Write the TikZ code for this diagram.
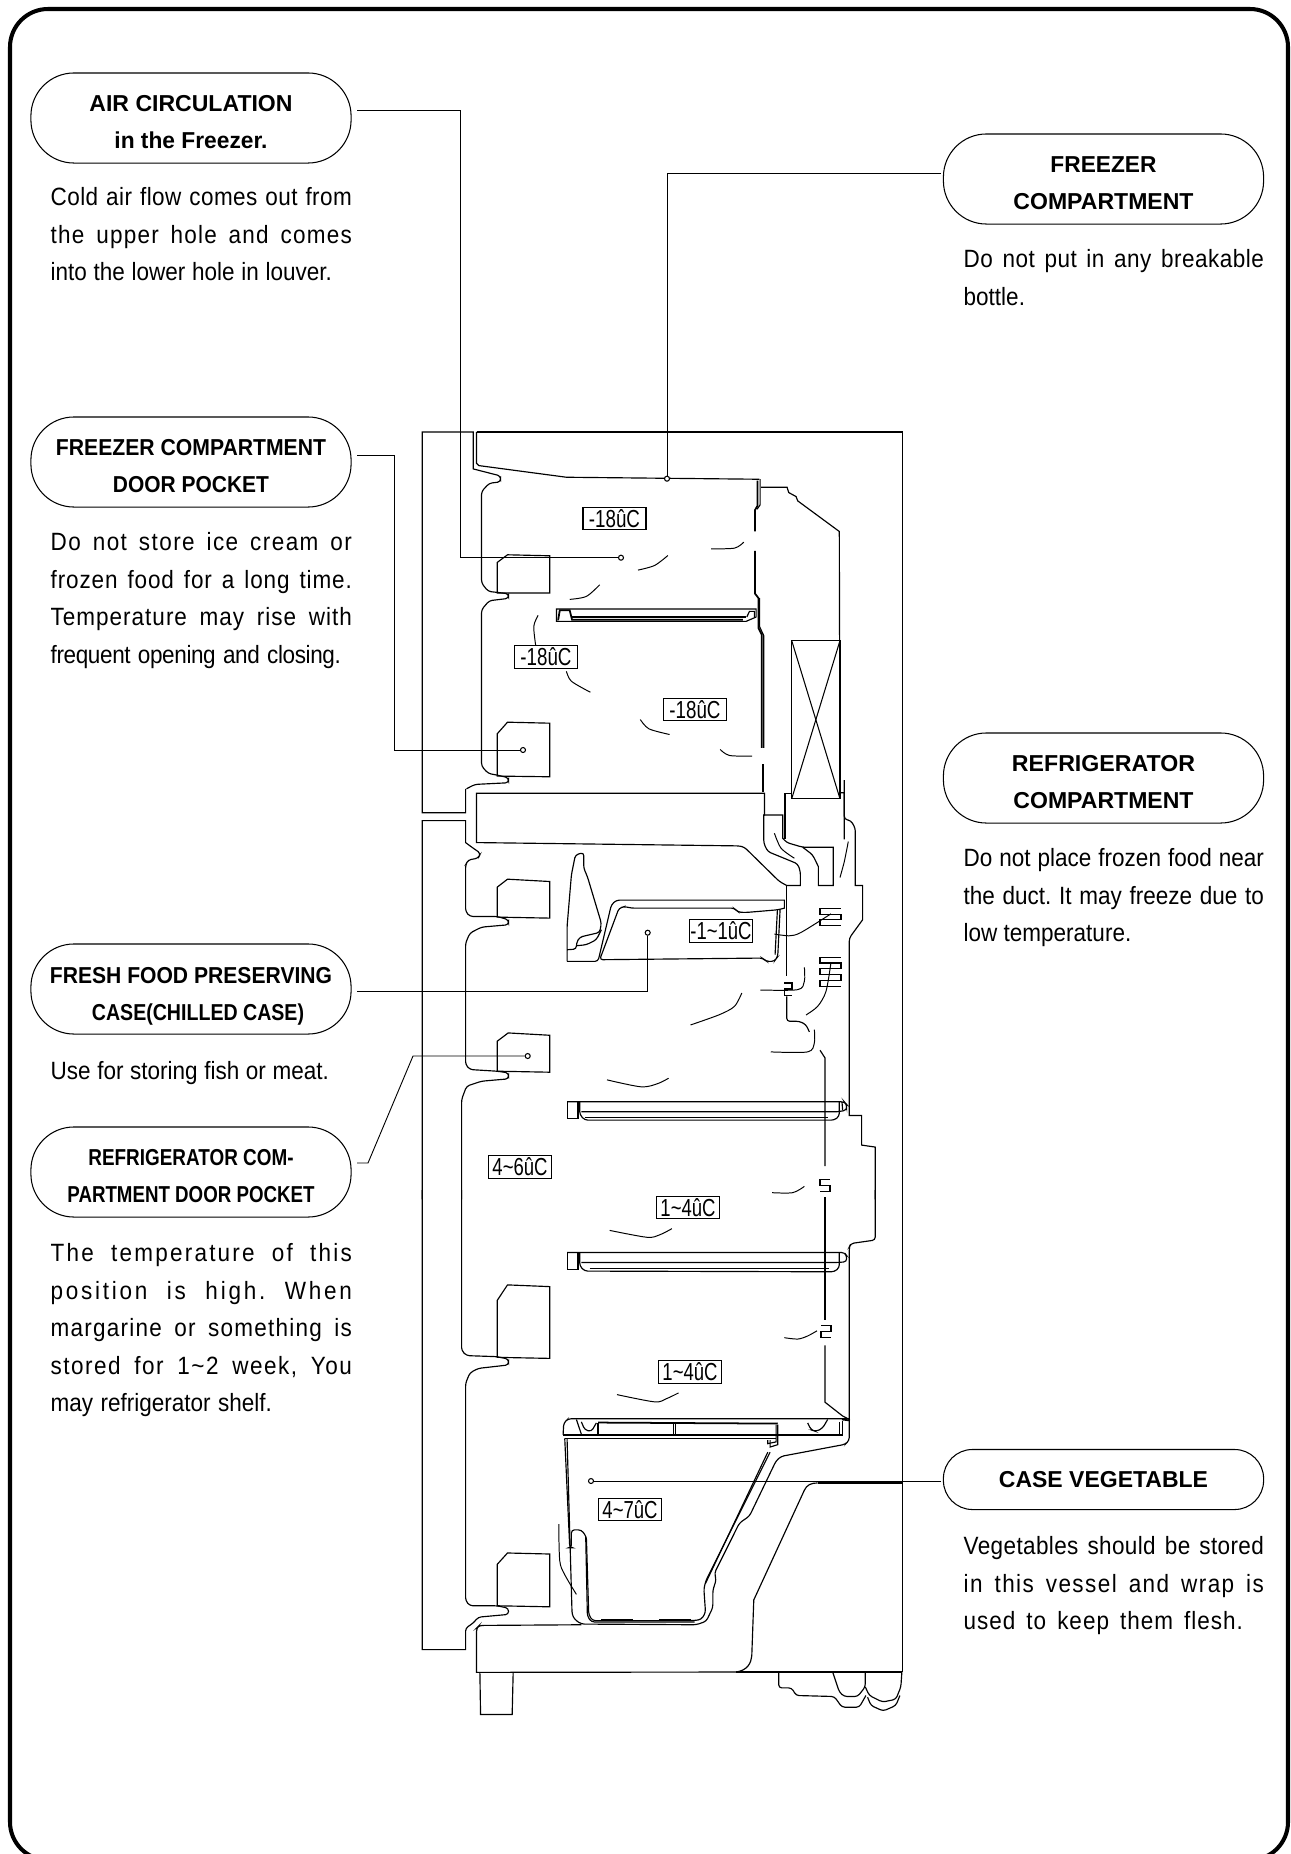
\documentclass[tikz,border=0pt]{standalone}
\usepackage{graphicx}
\usepackage{fontspec}
\setmainfont{Liberation Sans}[FakeStretch=0.9]
\newcommand{\fitw}[2]{\resizebox{#1cm}{\height}{#2}}
\newcommand{\bline}[3]{\makebox[#1cm][s]{\addfontfeature{LetterSpace=#2}#3}}
\newcommand{\pilltop}{\rule{0pt}{0.25cm}}
\tikzset{
	pill/.style={draw,line width=0.3pt,rounded corners=0.43cm,minimum width=3.2cm,minimum height=0.9cm,inner sep=0pt,align=center,font={\fontsize{6.55}{10.53}\selectfont\bfseries}},
	desc/.style={inner sep=0pt,anchor=north west,align=left,font={\fontsize{7.11}{10.67}\selectfont\frenchspacing}},
	tempbox/.style={draw,line width=0.35pt,fill=white,inner sep=0pt,minimum width=0.63cm,minimum height=0.225cm,font={\fontsize{7}{8}\selectfont}},
	dot/.style={circle,draw,fill=white,line width=0.3pt,inner sep=0pt,minimum size=0.05cm},
	leader/.style={line width=0.26pt},
	wall/.style={line width=0.33pt},
	curvy/.style={line width=0.33pt,rounded corners=0.03cm},
	heavy/.style={line width=0.5pt},
	air/.style={line width=0.28pt},
	partA/.style={shift={(410,420)},x=0.00333cm,y=-0.00333cm},
	partB/.style={shift={(410,780)},x=0.00333cm,y=-0.00333cm},
	partC/.style={shift={(410,1190)},x=0.00333cm,y=-0.00345cm}
}
\begin{document}
\begin{tikzpicture}[x=0.01cm,y=-0.01cm]
	\useasboundingbox (0,0) rectangle (1291,1854);
	\clip (0,0) rectangle (1291,1854);
	% Outer frame
	\draw[line width=1.15pt,rounded corners=0.38cm] (10,9) rectangle (1288,1860);

	% Cabinet: top and right side
	\draw[heavy] (476.5,432) -- (902.5,432);
	\draw[wall] (902.5,432) -- (902.5,1672);

	% Freezer part
	\begin{scope}[partA]
		\draw[wall] (167,1108) [sharp corners] -- (167,1180) -- (37,1180) -- (37,36) -- (190,36) -- (190,147) [rounded corners=0.03cm] -- (272,168) -- (272,186) -- (238,190) -- (215,215) -- (215,490) -- (235,515) -- (262,518) -- (296,522) -- (296,536) -- (238,543) -- (215,570) -- (215,1040) -- (235,1062) -- (262,1067) -- (296,1075) -- (296,1090) -- (195,1095) -- (170,1108);
		\draw[wall] (200,36) -- (200,130) -- (207,137) -- (470,172) -- (1050,178);
		\draw[wall] (262,428) -- (293,405) -- (420,408) -- (420,520) -- (262,520) -- cycle;
		\draw[wall] (262,943) -- (293,908) -- (420,911) -- (420,1072) -- (262,1070) -- cycle;
		% Louver
		\draw[heavy] (1044,182) -- (1044,258) -- (1037,270) -- (1037,335);
		\draw[wall] (1052,178) -- (1052,255) -- (1043,268);
		\draw[heavy] (1037,393) -- (1037,522) -- (1047,535) -- (1047,625) -- (1057,645) -- (1057,985);
		\draw[wall] (1050,535) -- (1050,620) -- (1063,648) -- (1063,985);
		\draw[wall] (1058,1035) -- (1058,1118);
		\draw[wall] (1063,1035) -- (1063,1118);
		% Duct and evaporator
		\draw[wall] (1055,202) -- (1133,202) -- (1138,218) -- (1160,230) -- (1165,243) -- (1290,335) -- (1292,1120) -- (1305,1120) -- (1305,1260);
		\draw[line width=0.35pt] (1147,663) rectangle (1292,1138);
		\draw[line width=0.3pt] (1147,663) -- (1292,1138);
		\draw[line width=0.3pt] (1292,663) -- (1147,1138);
		% Shelf
		\draw[wall] (440,568) -- (1040,568) -- (1040,592) -- (1010,605) -- (440,605) -- cycle;
		\draw[heavy] (445,602) -- (450,572) -- (480,572) -- (487,600) -- (1000,600);
		\draw[wall] (487,592) -- (1010,592);
		\draw[wall] (1012,592) -- (1020,575) -- (1035,575) -- (1035,592);
		% Air flow
		\draw[air] plot[smooth] coordinates {(905,387) (975,385) (1003,367)};
		\draw[air] plot[smooth] coordinates {(685,451) (735,437) (775,407)};
		\draw[air] plot[smooth] coordinates {(480,539) (530,530) (570,495)};
		\draw[air] plot[smooth] coordinates {(385,587) (372,620) (378,680)};
		\draw[air] plot[smooth] coordinates {(470,755) (485,785) (542,818)};
		\draw[air] plot[smooth] coordinates {(692,900) (718,928) (780,945)};
		\draw[air] plot[smooth] coordinates {(932,990) (960,1008) (1028,1010)};
	\end{scope}

	% Refrigerator part
	\begin{scope}[partB]
		\draw[wall] (37,1260) -- (37,122) -- (167,122) -- (167,188) [rounded corners=0.03cm] -- (190,205) -- (212,220) -- (205,235) -- (175,240) -- (167,255) -- (167,395) -- (180,410) -- (262,410) -- (296,420) -- (296,435) -- (215,442) -- (180,460) -- (167,490) -- (167,855) -- (180,870) -- (262,875) -- (296,880) -- (296,898) -- (215,905) -- (170,920) -- (155,960) -- (155,1260);
		\draw[wall] (262,322) -- (293,298) -- (420,305) -- (420,415) -- (262,412) -- cycle;
		\draw[wall] (262,785) -- (295,760) -- (420,767) -- (420,878) -- (262,875) -- cycle;
		% Partition and ducts
		\draw[wall] (200,40) -- (1065,40) -- (1065,105) -- (1063,105) [rounded corners=0.03cm] -- (1063,190) -- (1075,215) -- (1165,252) -- (1173,275) [sharp corners] -- (1173,317) -- (1132,317) [rounded corners=0.03cm] -- (1110,305) -- (1005,202) -- (990,198) [sharp corners] -- (200,188) -- cycle;
		\draw[wall] (1063,105) -- (1120,105) -- (1120,175) [rounded corners=0.03cm] -- (1132,188) -- (1180,202) [sharp corners] -- (1272,202) -- (1272,317) -- (1227,317) -- (1227,260) [rounded corners=0.03cm] -- (1210,225) -- (1180,202);
		\draw[wall] (1148,40) -- (1127,40) -- (1127,178);
		\draw[curvy] (1305,0) -- (1305,118) -- (1325,122) -- (1338,145) [sharp corners] -- (1338,317) -- (1360,317) -- (1360,420) [rounded corners=0.03cm] -- (1320,475) [sharp corners] -- (1320,1008) -- (1357,1008) -- (1357,1097) -- (1398,1103) -- (1398,1260);
		\draw[wall] (1132,317) -- (1132,590);
		\draw[curvy] (1132,650) -- (1132,725) -- (1170,725) -- (1190,735) -- (1200,757);
		\draw[wall] (1125,610) -- (1148,610) -- (1148,628) -- (1125,628) -- (1125,647) -- (1148,647);
		\draw[wall] (1295,385) -- (1232,385) -- (1232,403) -- (1295,403) -- (1295,420) -- (1232,420) -- (1232,437) -- (1295,437);
		\draw[wall] (1295,533) -- (1232,533) -- (1232,550) -- (1295,550) -- (1295,567) -- (1232,567) -- (1232,585) -- (1295,585) -- (1295,602) -- (1232,602) -- (1232,620) -- (1295,620);
		\draw[wall] (1262,1200) -- (1232,1200) -- (1232,1218) -- (1262,1218) -- (1262,1237) -- (1232,1237);
		\draw[wall] (1232,812) -- (1247,835) -- (1247,1160);
		\draw[wall] (1247,1253) -- (1247,1260);
		% Chilled case
		\draw[curvy] (472,545) -- (472,440) -- (485,285) -- (497,225) -- (522,218) -- (522,265) -- (533,290) -- (575,430) -- (570,458) -- (510,472) -- (500,490) -- (500,508) -- (472,510);
		\draw[curvy] (500,498) -- (530,495) -- (560,480) -- (575,450);
		\draw[curvy] (472,545) -- (565,545) -- (605,375) -- (620,361) [sharp corners] -- (1125,361) -- (1125,385) [rounded corners=0.03cm] -- (1105,390) -- (1010,398) -- (985,397) -- (975,385) -- (665,385) -- (645,380) -- (628,385) -- (570,540) -- (1060,535) -- (1070,545) -- (1095,545) -- (1105,530) -- (1112,390);
		\draw[wall] (1104,390) -- (1097,525);
		% Shelf
		\draw[curvy] (472,967) -- (1305,967) -- (1312,975) -- (1312,992) -- (1285,997) -- (515,997);
		\draw[wall] (472,967) -- (505,967) -- (505,1018) -- (472,1018) -- cycle;
		\draw[curvy] (510,967) -- (510,1005) -- (525,1022) -- (1275,1022) -- (1290,1010) -- (1290,967);
		\draw[wall] (525,1015) -- (1255,1015);
		\draw[wall] (1298,967) -- (1300,992);
		% Air flow
		\draw[air] plot[smooth] coordinates {(1095,160) (1115,205) (1155,235)};
		\draw[air] plot[smooth] coordinates {(1317,185) (1305,245) (1292,293)};
		\draw[air] plot[smooth] coordinates {(1095,463) (1140,468) (1175,458) (1265,402)};
		\draw[air] plot[smooth] coordinates {(1185,563) (1185,605) (1165,630) (1053,631)};
		\draw[air] plot[smooth] coordinates {(1265,548) (1250,635) (1225,680) (1190,706)};
		\draw[air] plot[smooth] coordinates {(997,640) (975,680) (930,705) (843,736)};
		\draw[air] plot[smooth] coordinates {(1215,750) (1215,790) (1195,817) (1084,817)};
		\draw[air] plot[smooth] coordinates {(592,901) (695,922) (745,912) (777,896)};
		\draw[air] plot[smooth] coordinates {(1088,1240) (1150,1240) (1185,1221)};
	\end{scope}

	% Lower part
	\begin{scope}[partC]
		\draw[curvy] (155,0) -- (155,465) -- (170,480) -- (262,483) -- (296,490) -- (296,507) -- (205,517) -- (180,530) -- (167,560) -- (167,1190) -- (180,1205) -- (262,1205) -- (296,1212) -- (296,1230) -- (205,1238) -- (190,1255) -- (167,1270) [sharp corners] -- (167,1332) -- (37,1332) -- (37,0);
		\draw[wall] (262,320) -- (293,275) -- (420,280) -- (420,488) -- (262,485) -- cycle;
		\draw[wall] (262,1085) -- (293,1052) -- (420,1055) -- (420,1208) -- (262,1205) -- cycle;
		\draw[curvy] (1398,0) -- (1398,145) -- (1325,155) -- (1320,165) -- (1320,725) -- (1308,737) -- (1115,772) -- (1100,785) -- (1020,945) -- (990,965) -- (915,1110) -- (920,1130) -- (910,1160) -- (910,1210) -- (890,1250) -- (860,1260) -- (515,1258) -- (495,1245) -- (487,1230) -- (472,722);
		\draw[wall] (1247,25) -- (1247,378);
		\draw[wall] (1235,393) -- (1265,393) -- (1265,410) -- (1235,410) -- (1235,428) -- (1265,428);
		\draw[wall] (1247,450) -- (1247,615) -- (1300,655) -- (1320,665);
		% Shelf
		\draw[curvy] (472,181) -- (1305,181) -- (1312,190) -- (1312,208) -- (1285,210) -- (515,210);
		\draw[wall] (472,181) -- (505,181) -- (505,230) -- (472,230) -- cycle;
		\draw[curvy] (510,181) -- (510,220) -- (525,235) -- (1275,237) -- (1290,225) -- (1290,181);
		\draw[wall] (540,228) -- (1260,228);
		% Cover of the vegetable case
		\draw[curvy] (460,710) -- (462,675) -- (475,663) -- (1322,663);
		\draw[wall] (460,710) -- (1300,710) -- (1300,670);
		\draw[wall] (465,720) -- (1100,720);
		\draw[wall] (1105,680) -- (1105,738) -- (1082,745) -- (1082,725);
		\draw[wall] (1100,680) -- (1100,730) -- (1075,735) -- (1075,725);
		\draw[wall] (500,665) -- (515,708);
		\draw[curvy] (515,672) -- (525,695) -- (545,700) -- (560,675);
		\draw[heavy] (565,674) -- (1105,677);
		\draw[wall] (565,674) -- (565,710);
		\draw[wall] (792,678) -- (792,710);
		\draw[wall] (798,678) -- (798,710);
		\draw[curvy] (1195,675) -- (1205,695) -- (1220,700) -- (1240,690) -- (1255,665);
		\draw[wall] (1290,672) -- (1290,710);
		\draw[heavy] (1298,665) -- (1322,668);
		% Vegetable case
		\draw[curvy] (465,720) -- (480,1037) -- (485,1037) -- (485,985) -- (515,985) -- (530,1005) -- (537,1230) -- (548,1248) -- (850,1248) -- (875,1245) -- (888,1225) -- (883,1155) -- (890,1130) -- (1082,760);
		\draw[curvy] (528,1005) -- (533,1235) -- (545,1252) -- (855,1252);
		\draw[wall] (888,1140) -- (1075,760);
		\draw[wall] (575,1244) -- (670,1244);
		\draw[wall] (748,1244) -- (845,1244);
		% Base
		\draw[curvy] (515,1260) -- (208,1262) -- (200,1270) [sharp corners] -- (200,1398) -- (980,1397);
		\draw[wall] (980,1397) .. controls (1015,1392) and (1025,1370) .. (1027,1350) -- (1033,1188) -- (1185,870) .. controls (1192,855) and (1205,849) .. (1225,849);
		\draw[heavy] (1225,849) -- (1478,849);
		\draw[wall] (980,1397) -- (1478,1397);
		\draw[wall] (210,1398) -- (212,1520) -- (307,1520) -- (310,1398);
		\draw[curvy] (1108,1397) -- (1108,1443) -- (1147,1443) -- (1160,1465) -- (1275,1468) -- (1298,1499) -- (1350,1499) -- (1370,1465);
		\draw[curvy] (1270,1397) -- (1290,1455) -- (1305,1468) -- (1345,1468) -- (1368,1440) -- (1368,1397);
		\draw[curvy] (1368,1440) -- (1380,1465) -- (1420,1484) -- (1460,1476) -- (1475,1440) -- (1478,1397);
		\draw[curvy] (1375,1470) -- (1385,1494) -- (1422,1510) -- (1460,1494) -- (1472,1465);
		% Air flow
		\draw[air] plot[smooth] coordinates {(1125,428) (1165,432) (1195,423) (1223,408)};
		\draw[air] plot[smooth] coordinates {(622,593) (735,614) (770,605) (807,588)};
		\draw[air] plot[smooth] coordinates {(600,117) (712,137) (750,130) (787,112)};
		\draw[air] plot[smooth] coordinates {(447,968) (450,1075) (465,1115) (500,1172)};
	\end{scope}

	% Temperatures
	\node[tempbox] (tempa) at (614.5,518.5) {\fitw{0.51}{-18ûC}};
	\node[tempbox] (tempb) at (546,657) {\fitw{0.51}{-18ûC}};
	\node[tempbox] (tempc) at (695,709.5) {\fitw{0.51}{-18ûC}};
	\node[tempbox] (tempd) at (721,931) {\fitw{0.61}{-1\textasciitilde1ûC}};
	\node[tempbox] (tempe) at (520,1167) {\fitw{0.55}{4\textasciitilde6ûC}};
	\node[tempbox] (tempf) at (688,1207.5) {\fitw{0.55}{1\textasciitilde4ûC}};
	\node[tempbox] (tempg) at (690,1372) {\fitw{0.55}{1\textasciitilde4ûC}};
	\node[tempbox] (temph) at (630,1509.5) {\fitw{0.55}{4\textasciitilde7ûC}};

	% Titles
	\node[pill] (aircirc) at (191,118) {\pilltop\fitw{2.03}{AIR CIRCULATION}\\\fitw{1.53}{in the Freezer.}};
	\node[pill] (frzcomp) at (1103.5,179) {\pilltop\fitw{1.06}{FREEZER}\\\fitw{1.80}{COMPARTMENT}};
	\node[pill] (frzpocket) at (191,462) {\pilltop\fitw{2.70}{FREEZER COMPARTMENT}\\\fitw{1.56}{DOOR POCKET}};
	\node[pill] (refcomp) at (1103.5,778) {\pilltop\fitw{1.83}{REFRIGERATOR}\\\fitw{1.80}{COMPARTMENT}};
	\node[pill] (freshcase) at (191,989) {\rule{0pt}{0.3cm}\fitw{2.82}{FRESH FOOD PRESERVING}\\\hspace*{0.14cm}\fitw{2.12}{CASE(CHILLED CASE)}};
	\node[pill] (refpocket) at (191,1172) {\pilltop\fitw{2.05}{REFRIGERATOR COM-}\\\fitw{2.47}{PARTMENT DOOR POCKET}};
	\node[pill,minimum height=0.6cm,rounded corners=0.29cm] (vegcase) at (1103.5,1479.5) {\fitw{2.09}{CASE VEGETABLE}};

	% Descriptions
	\node[desc] (airtxt) at (50,187) {\bline{3.01}{1.7}{Cold air flow comes out from}\\\bline{3.01}{5}{the upper hole and comes}\\\bline{2.81}{0}{into the lower hole in louver.}};
	\node[desc] (frztxt) at (963,249) {\bline{3.00}{2}{Do not put in any breakable}\\bottle.};
	\node[desc] (frzpockettxt) at (50,532) {\bline{3.01}{5.8}{Do not store ice cream or}\\\bline{3.01}{3.5}{frozen food for a long time.}\\\bline{3.01}{4}{Temperature may rise with}\\\bline{2.90}{-1.5}{frequent opening and closing.}};
	\node[desc] (reftxt) at (963,848) {\bline{3.00}{0}{Do not place frozen food near}\\\bline{3.00}{0}{the duct. It may freeze due to}\\low temperature.};
	\node[desc] (freshtxt) at (50,1061) {\bline{2.78}{0}{Use for storing fish or meat.}};
	\node[desc] (refpockettxt) at (50,1243) {\bline{3.01}{8.9}{The temperature of this}\\\bline{3.01}{11}{position is high. When}\\\bline{3.01}{5}{margarine or something is}\\\bline{3.01}{6}{stored for 1\textasciitilde2 week, You}\\\bline{2.21}{0}{may refrigerator shelf.}};
	\node[desc] (vegtxt) at (963,1536) {\bline{3.00}{1.5}{Vegetables should be stored}\\\bline{3.00}{5.8}{in this vessel and wrap is}\\\bline{2.79}{4}{used to keep them flesh.}};

	% Leaders
	\coordinate (airstart) at (357,110);
	\coordinate (airbend) at (460,557.7);
	\node[dot] (airdot) at (621,557.7) {};
	\draw[leader] (airstart) -| (airbend) -- (airdot);

	\coordinate (frzstart) at (941,173);
	\node[dot] (frzdot) at (667,478.7) {};
	\draw[leader] (frzstart) -| (frzdot);

	\coordinate (frzpocketstart) at (357,455);
	\coordinate (frzpocketbend) at (394,750);
	\node[dot] (frzpocketdot) at (523,750) {};
	\draw[leader] (frzpocketstart) -| (frzpocketbend) -- (frzpocketdot);

	\coordinate (freshstart) at (357,991);
	\node[dot] (freshdot) at (647.7,932.7) {};
	\draw[leader] (freshstart) -| (freshdot);

	\coordinate (refpocketstart) at (357,1163);
	\coordinate (refpocketa) at (368,1163);
	\coordinate (refpocketb) at (413,1056);
	\node[dot] (refpocketdot) at (527.7,1056) {};
	\draw[leader] (refpocketstart) -- (refpocketa) -- (refpocketb) -- (refpocketdot);

	\coordinate (vegstart) at (941,1481);
	\node[dot] (vegdot) at (591,1481) {};
	\draw[leader] (vegstart) -- (vegdot);
\end{tikzpicture}
\end{document}
